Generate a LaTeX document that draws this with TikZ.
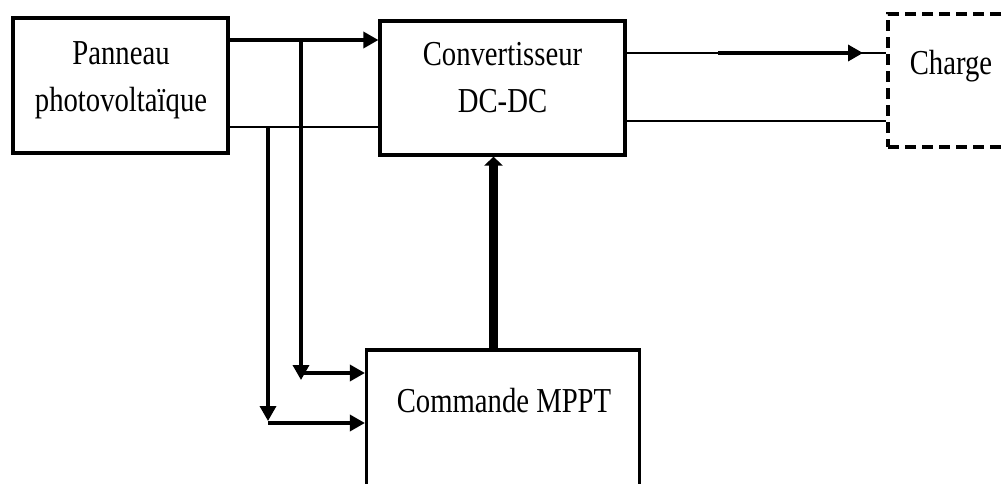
\documentclass[tikz,border=0pt]{standalone}
\usepackage{fontspec}
\newfontfamily\tnr[FakeStretch=0.82]{Liberation Serif}
\usetikzlibrary{arrows.meta}
\begin{document}
\begin{tikzpicture}[x=1pt,y=-1pt,
  box/.style={draw, line width=3.2pt, inner sep=0pt, minimum width=#1},
  dashedbox/.style={box=#1, dashed, dash pattern=on 11pt off 6pt},
  lbl/.style={inner sep=0pt, align=center, font=\tnr\fontsize{35}{47}\selectfont},
  wire/.style={line width=1.6pt},
  bus/.style={line width=3.4pt},
  head/.style={-{Triangle[length=15pt,width=16pt]}},
  bighead/.style={-{Triangle[length=9pt,width=18pt]}}]
\useasboundingbox (0,0) rectangle (1007,483);

% blocks
\node[box=215pt, minimum height=135pt] (pv)   at (120.5,85.5) {};
\node[box=245pt, minimum height=134pt] (conv) at (502.5,88) {};
\node[box=273pt, minimum height=140pt] (mppt) at (503,420) {};
\node[dashedbox=126pt, minimum height=133pt] (load) at (951,80.5) {};

% labels
\node[lbl, anchor=north] (pvtext)   at (121,41.8) {Panneau\\photovolta\"ique};
\node[lbl, anchor=north] (convtext) at (502.5,42.3) {Convertisseur\\DC-DC};
\node[lbl, anchor=base]  (mpptext)  at (504,412) {Commande MPPT};
\node[lbl, anchor=base]  (loadtext) at (951,74) {Charge};

% panel to converter
\draw[bus, head] (pv.east |- 0,40) -- (conv.west |- 0,40);
\draw[wire] (pv.east |- 0,127) -- (conv.west |- 0,127);

% measurement taps towards the MPPT controller
\coordinate (tapV) at (301,40);
\coordinate (tapI) at (268,127);
\coordinate (cV) at (301,380);
\coordinate (cI) at (268,421);
\draw[bus, head] (tapV) -- (cV);
\draw[bus, head] (tapI) -- (cI);
\draw[bus, head] (301,373) -- (mppt.west |- 0,373);
\draw[bus, head] (268,423) -- (mppt.west |- 0,423);

% duty-cycle command
\draw[line width=9pt, bighead] (mppt.north -| 493.5,0) -- (conv.south -| 493.5,0);

% converter to load
\draw[wire] (conv.east |- 0,53) -- (load.west |- 0,53);
\coordinate (flowA) at (718,53);
\coordinate (flowB) at (863,53);
\draw[bus, head] (flowA) -- (flowB);
\draw[wire] (conv.east |- 0,121) -- (load.west |- 0,121);
\end{tikzpicture}
\end{document}
